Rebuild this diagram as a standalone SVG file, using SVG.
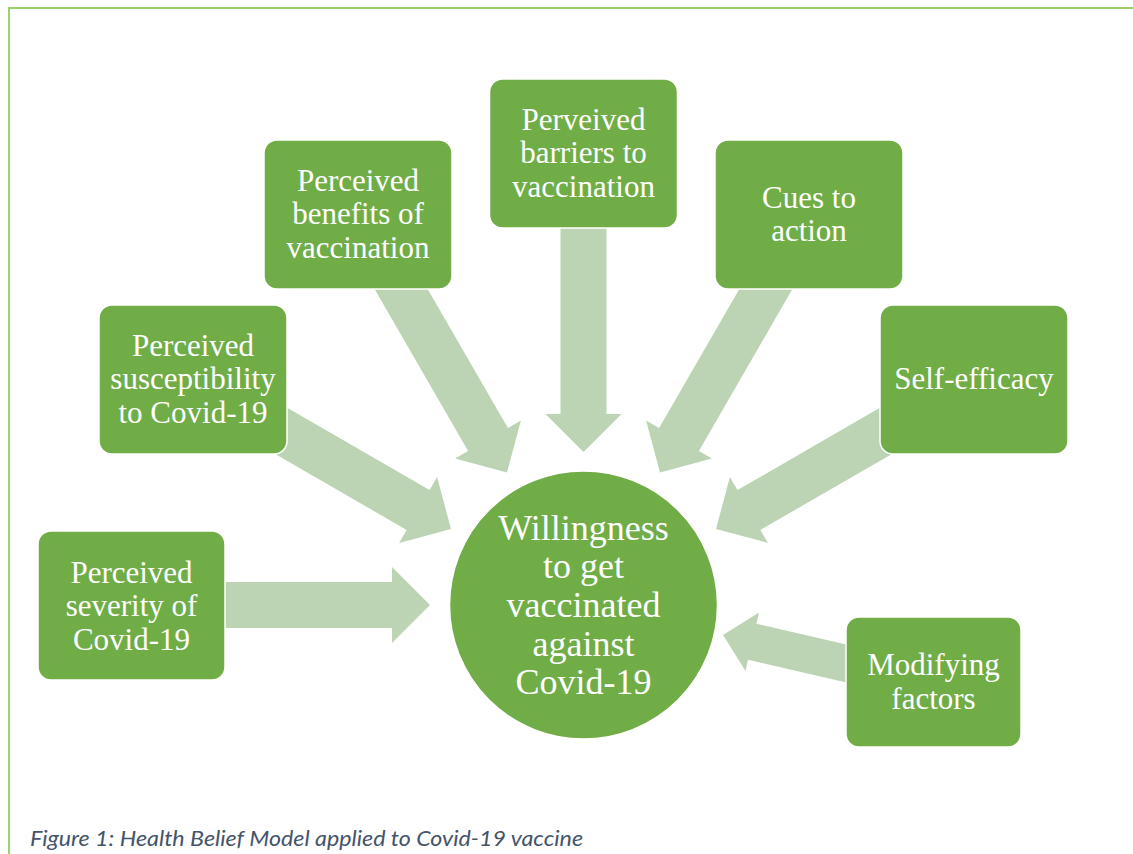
<svg xmlns="http://www.w3.org/2000/svg" width="1133" height="854" viewBox="0 0 1133 854">
  <style>
    .frame { fill: none; stroke: #97d46a; stroke-width: 2; }
    .arrow { fill: #bcd4b3; stroke: none; }
    .box { fill: #70ad47; stroke: #ffffff; stroke-width: 1.5; }
    .hub { fill: #70ad47; stroke: #ffffff; stroke-width: 1.5; }
    .label { font-family: "Liberation Serif", "Times New Roman", serif; font-size: 31px; fill: #ffffff; text-anchor: middle; }
    .hub-label { font-family: "Liberation Serif", "Times New Roman", serif; font-size: 36px; fill: #ffffff; text-anchor: middle; }
    .caption { font-family: Lato, "Liberation Sans", Arial, sans-serif; font-style: italic; font-size: 21px; fill: #44546a; }
  </style>

  <rect width="1133" height="854" fill="#ffffff"/>
  <path class="frame" d="M9,854 V8 H1133"/>

  <!-- block arrows pointing at the central circle (drawn beneath the boxes) -->
  <g id="connectors">
    <polygon class="arrow" points="205,582 392,582 392,567 430,605 392,643 392,628 205,628"/>
    <polygon class="arrow" points="272,399.1 429.6,490.1 437.1,477.1 451,529 399.1,542.9 406.6,529.9 249,438.9"/>
    <polygon class="arrow" points="372.1,284.8 468.1,451.1 455.1,458.6 507,472.5 520.9,420.6 507.9,428.1 411.9,261.8"/>
    <polygon class="arrow" points="560.5,210 560.5,414 545.5,414 583.5,452 621.5,414 606.5,414 606.5,210"/>
    <polygon class="arrow" points="794.9,284.8 698.9,451.1 711.9,458.6 660,472.5 646.1,420.6 659.1,428.1 755.1,261.8"/>
    <polygon class="arrow" points="895,399.1 737.4,490.1 729.9,477.1 716,529 767.9,542.9 760.4,529.9 918,438.9"/>
    <polygon class="arrow" points="883,653 756.4,623.8 759,612.6 723,635 745.5,671 748,659.8 874.6,689"/>
  </g>

  <g id="node-severity">
    <rect class="box" x="38" y="531" width="187" height="149" rx="13"/>
    <text class="label" x="131.5" y="582.5">Perceived</text>
    <text class="label" x="131.5" y="616">severity of</text>
    <text class="label" x="131.5" y="649.5">Covid-19</text>
  </g>

  <g id="node-susceptibility">
    <rect class="box" x="99" y="305" width="188" height="149" rx="13"/>
    <text class="label" x="193" y="355.5">Perceived</text>
    <text class="label" x="193" y="389">susceptibility</text>
    <text class="label" x="193" y="422.5">to Covid-19</text>
  </g>

  <g id="node-benefits">
    <rect class="box" x="264" y="140" width="188" height="149" rx="13"/>
    <text class="label" x="358" y="190.5">Perceived</text>
    <text class="label" x="358" y="224">benefits of</text>
    <text class="label" x="358" y="257.5">vaccination</text>
  </g>

  <g id="node-barriers">
    <rect class="box" x="489.5" y="79" width="188" height="149" rx="13"/>
    <text class="label" x="583.5" y="129.5">Perveived</text>
    <text class="label" x="583.5" y="163">barriers to</text>
    <text class="label" x="583.5" y="196.5">vaccination</text>
  </g>

  <g id="node-cues">
    <rect class="box" x="715" y="140" width="188" height="149" rx="13"/>
    <text class="label" x="809" y="207.5">Cues to</text>
    <text class="label" x="809" y="241">action</text>
  </g>

  <g id="node-self-efficacy">
    <rect class="box" x="880" y="305" width="188" height="149" rx="13"/>
    <text class="label" x="974" y="389">Self-efficacy</text>
  </g>

  <g id="node-modifying">
    <rect class="box" x="846" y="617" width="175" height="130" rx="13"/>
    <text class="label" x="933.5" y="675">Modifying</text>
    <text class="label" x="933.5" y="708.5">factors</text>
  </g>

  <g id="node-willingness">
    <circle class="hub" cx="583.5" cy="605" r="134"/>
    <text class="hub-label" x="583.5" y="539.5">Willingness</text>
    <text class="hub-label" x="583.5" y="578.2">to get</text>
    <text class="hub-label" x="583.5" y="617">vaccinated</text>
    <text class="hub-label" x="583.5" y="655.7">against</text>
    <text class="hub-label" x="583.5" y="694.4">Covid-19</text>
  </g>

  <text class="caption" x="30" y="846" textLength="553" lengthAdjust="spacingAndGlyphs">Figure 1: Health Belief Model applied to Covid-19 vaccine</text>
</svg>
